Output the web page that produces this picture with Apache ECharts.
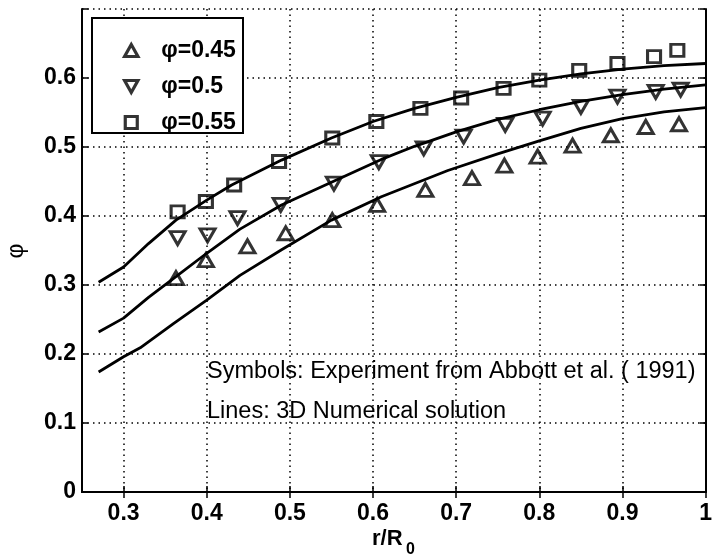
<!DOCTYPE html>
<html><head><meta charset="utf-8">
<script src="https://cdn.jsdelivr.net/npm/echarts@6/dist/echarts.min.js"></script>
<style>html,body{margin:0;padding:0;background:#fff}#c{width:715px;height:559px}</style>
</head><body><div id="c"></div>
<script>
// ---- data ----
const xTicks = [0.3, 0.4, 0.5, 0.6, 0.7, 0.8, 0.9, 1.0];
const yTicks = [0, 0.1, 0.2, 0.3, 0.4, 0.5, 0.6];
const legendNames = ['φ=0.45', 'φ=0.5', 'φ=0.55'];

// experiment (symbols)
const exp045R   = [0.363, 0.399, 0.449, 0.495, 0.551, 0.605, 0.663, 0.719, 0.758, 0.798, 0.840, 0.886, 0.928, 0.968];
const exp045Phi = [0.310, 0.336, 0.356, 0.375, 0.394, 0.416, 0.438, 0.455, 0.473, 0.486, 0.502, 0.517, 0.529, 0.533];
const exp050R   = [0.365, 0.401, 0.437, 0.489, 0.553, 0.607, 0.661, 0.709, 0.759, 0.804, 0.850, 0.894, 0.940, 0.970];
const exp050Phi = [0.368, 0.372, 0.397, 0.416, 0.447, 0.478, 0.498, 0.515, 0.532, 0.541, 0.558, 0.573, 0.580, 0.583];
const exp055R   = [0.365, 0.399, 0.433, 0.487, 0.551, 0.604, 0.657, 0.706, 0.757, 0.800, 0.848, 0.894, 0.938, 0.966];
const exp055Phi = [0.406, 0.421, 0.445, 0.479, 0.513, 0.537, 0.556, 0.571, 0.585, 0.597, 0.611, 0.621, 0.631, 0.640];

// 3D numerical solution (lines)
const num045R   = [0.27, 0.30, 0.32, 0.36, 0.40, 0.44, 0.49, 0.55, 0.61, 0.69, 0.75, 0.80, 0.85, 0.90, 0.95, 1.00];
const num045Phi = [0.174, 0.196, 0.209, 0.244, 0.278, 0.314, 0.351, 0.394, 0.428, 0.466, 0.490, 0.509, 0.527, 0.541, 0.551, 0.557];
const num050R   = [0.27, 0.30, 0.33, 0.363, 0.40, 0.44, 0.49, 0.55, 0.61, 0.65, 0.70, 0.75, 0.80, 0.85, 0.90, 0.95, 1.00];
const num050Phi = [0.232, 0.252, 0.282, 0.312, 0.346, 0.381, 0.416, 0.449, 0.482, 0.501, 0.522, 0.540, 0.554, 0.566, 0.576, 0.584, 0.590];
const num055R   = [0.27, 0.30, 0.33, 0.363, 0.40, 0.43, 0.49, 0.55, 0.60, 0.65, 0.70, 0.75, 0.80, 0.85, 0.90, 0.95, 1.00];
const num055Phi = [0.304, 0.326, 0.360, 0.394, 0.423, 0.445, 0.481, 0.513, 0.537, 0.556, 0.572, 0.586, 0.597, 0.606, 0.613, 0.618, 0.621];

const zip = (a, b) => a.map((v, i) => [v, b[i]]);

// ---- chart ----
const FONT = '"Liberation Sans", Arial, Helvetica, sans-serif';
const UP_TRI = 'path://M5,0 L10,9 L0,9 Z';
const DOWN_TRI = 'path://M0,0 L10,0 L5,9 Z';
const SQUARE = 'path://M0,0 L10,0 L10,10 L0,10 Z';
const chart = echarts.init(document.getElementById('c'), null, {renderer: 'canvas'});
const gridLine = {show: true, lineStyle: {color: '#000', width: 1.5, type: [1.5, 4]}};
const markerStyle = {color: 'rgba(255,255,255,0)', borderColor: '#000', borderWidth: 3};
const lineStyle = {color: '#000', width: 2.8};

chart.setOption({
  backgroundColor: '#fff',
  animation: false,
  grid: {left: 82, right: 7, top: 9, bottom: 67},
  xAxis: [{
    type: 'value', min: 0.25, max: 1.0,
    axisLine: {lineStyle: {color: '#000', width: 2}},
    axisTick: {inside: true, length: 6, customValues: xTicks, lineStyle: {color: '#000', width: 1.5}},
    axisLabel: {customValues: xTicks, color: '#000', fontSize: 23, fontWeight: 'bold', fontFamily: FONT, margin: 10,
      formatter: v => (v > 0.999 ? '1' : v.toFixed(1))},
    splitLine: gridLine
  }, {
    type: 'value', min: 0.25, max: 1.0, position: 'top',
    axisLine: {show: true, lineStyle: {color: '#000', width: 2}},
    axisTick: {show: true, inside: true, length: 6, customValues: xTicks, lineStyle: {color: '#000', width: 1.5}},
    axisLabel: {show: false}, splitLine: {show: false}
  }],
  yAxis: [{
    type: 'value', min: 0, max: 0.7, interval: 0.1,
    axisLine: {show: true, lineStyle: {color: '#000', width: 2}},
    axisTick: {show: true, inside: true, length: 6, lineStyle: {color: '#000', width: 1.5}},
    axisLabel: {color: '#000', fontSize: 23, fontWeight: 'bold', fontFamily: FONT, margin: 6,
      formatter: v => (v > 0.65 ? '' : (v === 0 ? '0' : v.toFixed(1)))},
    splitLine: gridLine
  }, {
    type: 'value', min: 0, max: 0.7, interval: 0.1, position: 'right',
    axisLine: {show: true, lineStyle: {color: '#000', width: 2}},
    axisTick: {show: true, inside: true, length: 6, lineStyle: {color: '#000', width: 1.5}},
    axisLabel: {show: false}, splitLine: {show: false}
  }],
  legend: {
    data: [
      {name: legendNames[0], icon: UP_TRI},
      {name: legendNames[1], icon: DOWN_TRI},
      {name: legendNames[2], icon: SQUARE}
    ],
    orient: 'vertical', left: 118, top: 34,
    itemWidth: 14, itemHeight: 12, itemGap: 13, z: 10,
    itemStyle: {color: 'rgba(255,255,255,0)', borderColor: '#000', borderWidth: 3.2},
    textStyle: {color: '#000', fontSize: 23, fontWeight: 'bold', fontFamily: FONT, padding: [0, 0, 0, 18]}
  },
  graphic: [
    {type: 'rect', z: 8, shape: {x: 92, y: 18, width: 151, height: 115},
     style: {fill: '#fff', stroke: '#000', lineWidth: 2}},
    {type: 'text', z: 8, x: 17, y: 251, rotation: Math.PI / 2,
     style: {text: 'φ', fill: '#000', font: '23px ' + FONT, align: 'center', verticalAlign: 'middle'}},
    {type: 'text', z: 8, x: 207, y: 372,
     style: {text: 'Symbols: Experiment from Abbott et al. ( 1991)', fill: '#000', font: '23.5px ' + FONT, verticalAlign: 'middle'}},
    {type: 'text', z: 8, x: 207, y: 412,
     style: {text: 'Lines: 3D Numerical solution', fill: '#000', font: '23.5px ' + FONT, verticalAlign: 'middle'}},
    {type: 'text', z: 8, x: 372, y: 539,
     style: {text: 'r/R', fill: '#000', font: 'bold 22px ' + FONT, verticalAlign: 'middle'}},
    {type: 'text', z: 8, x: 406, y: 550,
     style: {text: '0', fill: '#000', font: 'bold 16px ' + FONT, verticalAlign: 'middle'}}
  ],
  series: [
    {name: 'num045', type: 'line', data: zip(num045R, num045Phi), showSymbol: false, symbol: 'none', lineStyle: lineStyle, z: 2},
    {name: 'num050', type: 'line', data: zip(num050R, num050Phi), showSymbol: false, symbol: 'none', lineStyle: lineStyle, z: 2},
    {name: 'num055', type: 'line', data: zip(num055R, num055Phi), showSymbol: false, symbol: 'none', lineStyle: lineStyle, z: 2},
    {name: legendNames[0], type: 'scatter', data: zip(exp045R, exp045Phi), symbol: UP_TRI, symbolSize: [15, 13], itemStyle: markerStyle, z: 3},
    {name: legendNames[1], type: 'scatter', data: zip(exp050R, exp050Phi), symbol: DOWN_TRI, symbolSize: [15, 13], itemStyle: markerStyle, z: 3},
    {name: legendNames[2], type: 'scatter', data: zip(exp055R, exp055Phi), symbol: SQUARE, symbolSize: [13, 12], itemStyle: markerStyle, z: 3}
  ]
});
</script></body></html>
